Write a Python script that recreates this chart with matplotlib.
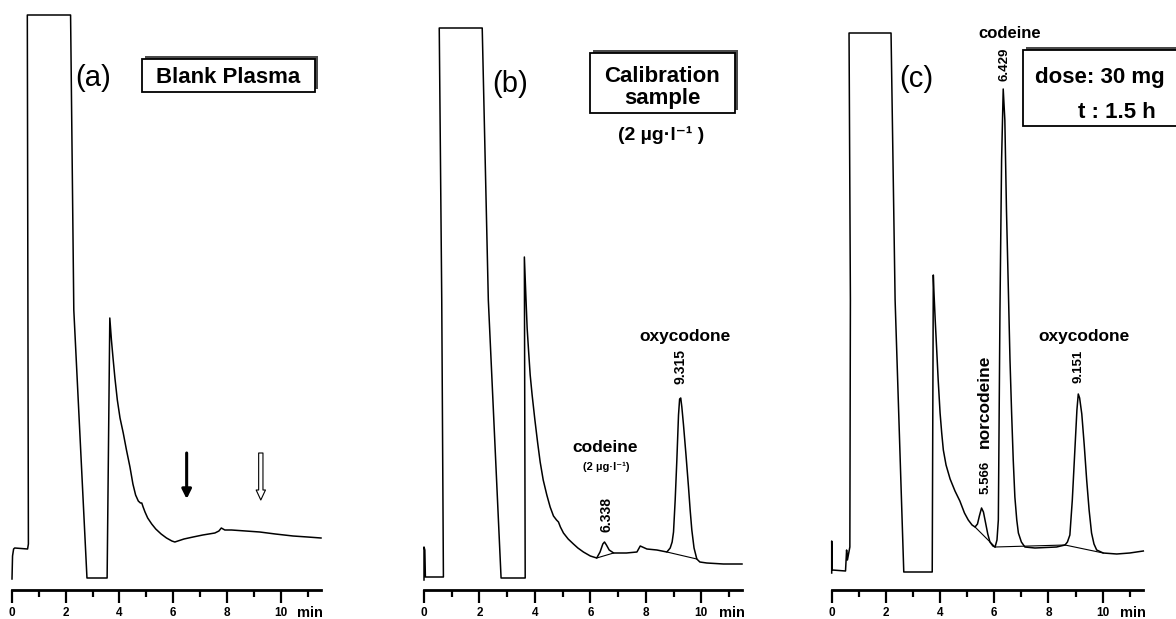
import matplotlib
matplotlib.use("Agg")
import matplotlib.pyplot as plt
from matplotlib.patches import Rectangle

plt.rcParams['font.family'] = ['Liberation Sans', 'DejaVu Sans']

W, H = 1176, 619

# chromatogram traces: time (min), detector response (arb. units)
t_a = [0.00, 0.02, 0.06, 0.10, 0.58, 0.61, 0.57, 2.18, 2.30, 2.79, 3.54, 3.64,
       3.70, 3.76, 3.83, 3.92, 4.02, 4.14, 4.26, 4.39, 4.50, 4.60, 4.70, 4.78,
       4.83, 4.88, 4.95, 5.05, 5.20, 5.35, 5.55, 5.75, 5.95, 6.06, 6.40, 6.74,
       7.10, 7.55, 7.70, 7.79, 7.92, 8.17, 8.70, 9.22, 9.80, 10.46, 11.00, 11.50]
r_a = [11, 34, 41, 42, 41, 46, 575, 575, 280, 12, 12, 272,
       250, 232, 212, 190, 172, 157, 140, 123, 106, 95, 89, 87,
       87, 83, 78, 72, 66, 61, 56, 52, 49, 48, 51, 53,
       55, 57, 59, 62, 60, 60, 59, 58, 56, 54, 53, 52]

t_b = [0.00, 0.00, 0.03, 0.05, 0.70, 0.64, 0.55, 2.10, 2.32, 2.78, 3.65, 3.62,
       3.68, 3.72, 3.77, 3.83, 3.90, 4.00, 4.10, 4.19, 4.30, 4.43, 4.55, 4.67,
       4.78, 4.85, 4.92, 5.03, 5.20, 5.39, 5.55, 5.75, 6.00, 6.23, 6.35, 6.45,
       6.51, 6.58, 6.68, 6.84, 7.30, 7.68, 7.80, 8.04, 8.40, 8.76, 8.88, 8.95,
       9.00, 9.06, 9.12, 9.18, 9.22, 9.26, 9.30, 9.36, 9.45, 9.54, 9.60, 9.66,
       9.74, 9.84, 9.95, 10.20, 10.80, 11.47]
r_b = [10, 43, 40, 13, 13, 290, 562, 562, 290, 12, 12, 333,
       290, 262, 240, 215, 195, 170, 147, 128, 110, 95, 83, 74,
       70, 68, 63, 57, 51, 46, 42, 38, 34, 32, 38, 46,
       48, 45, 40, 37, 37, 38, 44, 41, 40, 38, 42, 48,
       58, 90, 130, 175, 191, 192, 183, 165, 135, 103, 80, 60,
       42, 31, 28, 27, 26, 26]

t_c = [0.00, 0.00, 0.02, 0.51, 0.55, 0.58, 0.67, 0.69, 0.64, 2.19, 2.34, 2.66,
       3.71, 3.75, 3.77, 3.82, 3.87, 3.93, 4.00, 4.06, 4.12, 4.22, 4.37, 4.55,
       4.73, 4.90, 5.04, 5.18, 5.29, 5.38, 5.45, 5.53, 5.60, 5.68, 5.76, 5.84,
       5.95, 6.03, 6.10, 6.15, 6.21, 6.27, 6.33, 6.39, 6.45, 6.52, 6.58, 6.64,
       6.70, 6.76, 6.83, 6.89, 7.00, 7.13, 7.50, 8.30, 8.61, 8.70, 8.79, 8.88,
       8.98, 9.05, 9.10, 9.15, 9.23, 9.32, 9.41, 9.50, 9.59, 9.68, 9.78, 10.02,
       10.52, 11.00, 11.50]
r_c = [17, 49, 20, 19, 40, 30, 43, 290, 557, 557, 290, 18,
       18, 315, 300, 270, 243, 210, 177, 157, 140, 125, 111, 99,
       89, 77, 70, 65, 63, 66, 74, 82, 78, 67, 56, 48,
       44, 43, 50, 70, 280, 430, 501, 470, 380, 300, 230, 177,
       130, 93, 70, 57, 48, 43, 42, 43, 45, 48, 55, 90,
       143, 180, 196, 192, 176, 145, 110, 80, 57, 46, 40, 37,
       36, 37, 39]

# integrator baselines drawn under the integrated peaks
base_b = [([6.23, 6.84], [32, 37]), ([8.76, 9.84], [38, 31])]
base_c = [([5.29, 6.03], [63, 43]), ([6.03, 8.61], [43, 45]), ([8.61, 10.02], [45, 37])]

# peak annotations: (time, response, text, rotation, size)
labels_b = [(9.42, 254, "oxycodone", 0, 12.5), (9.24, 223, "9.315", 90, 10),
            (6.55, 143, "codeine", 0, 12.5), (6.57, 123, "(2 µg·l⁻¹)", 0, 8),
            (6.57, 76, "6.338", 90, 10)]
labels_c = [(6.58, 556, "codeine", 0, 12), (6.36, 526, "6.429", 90, 9.5),
            (5.62, 189, "norcodeine", 90, 12.5), (5.68, 113, "5.566", 90, 9.5),
            (9.31, 254, "oxycodone", 0, 12.5), (9.10, 224, "9.151", 90, 9.5)]

major_ticks = [0, 2, 4, 6, 8, 10]
minor_ticks = [1, 3, 5, 7, 9, 11]

fig = plt.figure(figsize=(W / 100, H / 100), dpi=100)


def px_rect(x0, y0, x1, y1):
    # pixel box (top-left origin) -> figure fraction rect
    return [x0 / W, 1 - y1 / H, (x1 - x0) / W, (y1 - y0) / H]


def make_ax(left, right, tmax):
    ax = fig.add_axes(px_rect(left, 15, right, 590))
    ax.set_xlim(0, tmax)
    ax.set_ylim(0, 575)
    for s in ["left", "top", "right"]:
        ax.spines[s].set_visible(False)
    ax.spines["bottom"].set_linewidth(2.0)
    ax.set_yticks([])
    ax.set_xticks(major_ticks)
    ax.set_xticks(minor_ticks, minor=True)
    ax.set_xticklabels([str(v) for v in major_ticks], fontsize=8.5, fontweight="bold")
    ax.tick_params(which="major", direction="out", length=9, width=1.6, pad=3)
    ax.tick_params(which="minor", direction="out", length=5, width=1.6)
    ax.text(11.1, -0.047, "min", transform=ax.get_xaxis_transform(), ha="center",
            va="baseline", fontsize=10.5, fontweight="bold")
    return ax


ax_a = make_ax(12, 321, 11.5)
ax_b = make_ax(424, 742, 11.47)
ax_c = make_ax(831.7, 1143.3, 11.5)

for ax, t, r in [(ax_a, t_a, r_a), (ax_b, t_b, r_b), (ax_c, t_c, r_c)]:
    ax.plot(t, r, color="black", lw=1.1, clip_on=False)

for ax, bases in [(ax_b, base_b), (ax_c, base_c)]:
    for bx, by in bases:
        ax.plot(bx, by, color="black", lw=0.8)

for ax, labels in [(ax_b, labels_b), (ax_c, labels_c)]:
    for x, y, s, rot, fs in labels:
        ax.text(x, y, s, rotation=rot, ha="center", va="center", fontsize=fs,
                fontweight="bold")

# arrows marking expected retention of codeine / oxycodone in blank plasma
ax_a.annotate("", xy=(6.5, 91), xytext=(6.5, 137),
              arrowprops=dict(arrowstyle="-|>", color="black", lw=2.2,
                              mutation_scale=14, shrinkA=0, shrinkB=0))
ax_a.annotate("", xy=(9.26, 90), xytext=(9.26, 137),
              arrowprops=dict(arrowstyle="simple,head_length=0.72,head_width=0.67,tail_width=0.31",
                              fc="white", ec="black", lw=0.8, mutation_scale=10,
                              shrinkA=0, shrinkB=0))


# boxed titles with a textured shadow
def shadow_box(x0, y0, x1, y1):
    r = px_rect(x0 + 3, y0 - 3.5, x1 + 3, y1 - 3.5)
    fig.patches.append(Rectangle((r[0], r[1]), r[2], r[3], transform=fig.transFigure,
                                 facecolor="#4a4a4a", edgecolor="none", zorder=1))
    r = px_rect(x0, y0, x1, y1)
    fig.patches.append(Rectangle((r[0], r[1]), r[2], r[3], transform=fig.transFigure,
                                 facecolor="white", edgecolor="black", lw=1.3, zorder=2))


def ftext(x, y, s, **kw):
    fig.text(x / W, 1 - y / H, s, **kw)


shadow_box(142, 59, 315, 92)
shadow_box(590, 53, 735, 113)
shadow_box(1023, 50, 1195, 126)

ftext(228, 83, "Blank Plasma", ha="center", va="baseline", fontsize=16, fontweight="bold", zorder=3)
ftext(662, 82, "Calibration", ha="center", va="baseline", fontsize=16, fontweight="bold", zorder=3)
ftext(662, 104, "sample", ha="center", va="baseline", fontsize=16, fontweight="bold", zorder=3)
ftext(661, 140, "(2 µg·l⁻¹ )", ha="center", va="baseline", fontsize=14, fontweight="bold")
ftext(1035, 83, "dose: 30 mg", ha="left", va="baseline", fontsize=16, fontweight="bold", zorder=3)
ftext(1078, 118, "t : 1.5 h", ha="left", va="baseline", fontsize=16, fontweight="bold", zorder=3)

ftext(93, 78, "(a)", ha="center", va="center", fontsize=21)
ftext(510, 84, "(b)", ha="center", va="center", fontsize=21)
ftext(916, 79, "(c)", ha="center", va="center", fontsize=21)

fig.savefig("out.png", dpi=100)
